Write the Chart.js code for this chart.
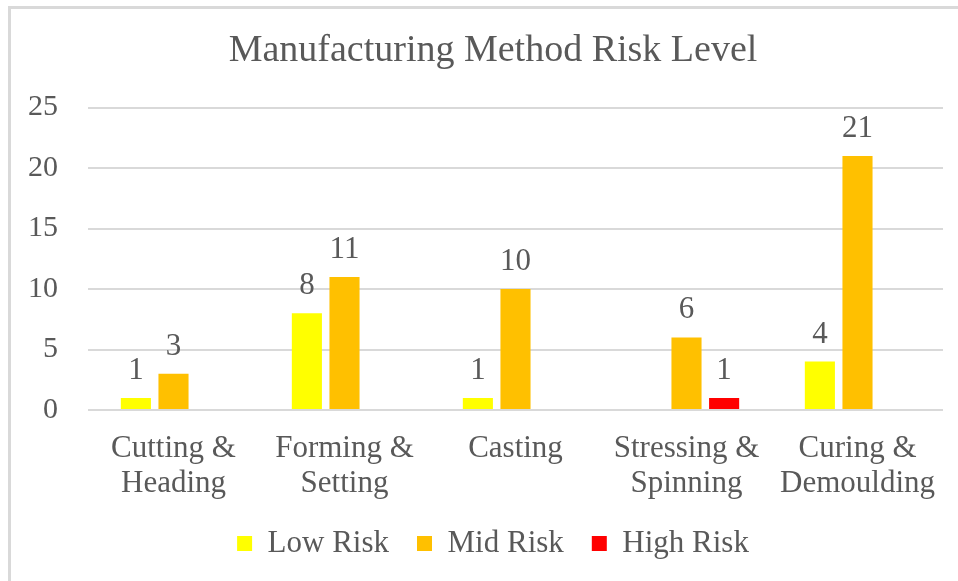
<!DOCTYPE html>
<html>
<head>
<meta charset="utf-8">
<script src="https://cdn.jsdelivr.net/npm/chart.js@4"></script>
<style>
  html, body { margin: 0; padding: 0; background: #fff; overflow: hidden; }
  .wrap { position: relative; width: 958px; height: 581px; }
  .frame {
    position: absolute; left: 8px; top: 6px;
    width: 1200px; height: 1200px;
    border: 3px solid #d9d9d9; pointer-events: none;
  }
  canvas { position: absolute; left: 0; top: 0; }
</style>
</head>
<body>
<div class="wrap">
  <canvas id="riskChart" width="958" height="581"></canvas>
  <div class="frame"></div>
</div>
<script>
// Data
const categories = [
    ['Cutting &', 'Heading'],
    ['Forming &', 'Setting'],
    ['Casting'],
    ['Stressing &', 'Spinning'],
    ['Curing &', 'Demoulding']
];
const lowRisk = [1, 8, 1, 0, 4];
const midRisk = [3, 11, 10, 6, 21];
const highRisk = [0, 0, 0, 1, 0];
const yTicks = [0, 5, 10, 15, 20, 25];

const serif = "'Liberation Serif', 'Times New Roman', serif";
const textColor = '#595959';

// Value labels above each non-zero bar
const barLabels = {
    id: 'barLabels',
    afterDatasetsDraw(chart) {
        const ctx = chart.ctx;
        ctx.save();
        ctx.font = '31px ' + serif;
        ctx.fillStyle = textColor;
        ctx.textAlign = 'center';
        ctx.textBaseline = 'alphabetic';
        chart.data.datasets.forEach((ds, i) => {
            const meta = chart.getDatasetMeta(i);
            meta.data.forEach((bar, j) => {
                const v = ds.data[j];
                if (!v) return;
                ctx.fillText(String(v), bar.x, bar.y - 19);
            });
        });
        ctx.restore();
    }
};

document.addEventListener('DOMContentLoaded', function() {
    const ctx = document.getElementById('riskChart');
    new Chart(ctx, {
        type: 'bar',
        data: {
            labels: categories,
            datasets: [
                { label: 'Low Risk', data: lowRisk, backgroundColor: '#FFFF00' },
                { label: 'Mid Risk', data: midRisk, backgroundColor: '#FFC000' },
                { label: 'High Risk', data: highRisk, backgroundColor: '#FF0000' }
            ]
        },
        options: {
            responsive: false,
            animation: false,
            categoryPercentage: 0.66,
            barPercentage: 0.8,
            layout: {
                padding: { left: 28, right: 0, top: 0, bottom: 12 }
            },
            scales: {
                x: {
                    grid: { display: false, drawTicks: false },
                    border: { display: false },
                    ticks: {
                        color: textColor,
                        font: { family: serif, size: 31, lineHeight: 1.13 },
                        padding: 21,
                        maxRotation: 0,
                        autoSkip: false
                    },
                    afterFit(scale) { scale.height = 90; }
                },
                y: {
                    min: 0,
                    max: 25,
                    afterBuildTicks(scale) {
                        scale.ticks = yTicks.map(v => ({ value: v }));
                    },
                    grid: { color: '#d9d9d9', lineWidth: 2, drawTicks: false },
                    border: { display: false },
                    ticks: {
                        color: textColor,
                        font: { family: serif, size: 30 },
                        padding: 30
                    },
                    afterFit(scale) { scale.width = 60; }
                },
                // empty spacer on the right so the title and legend sit where they do in the original
                spacer: {
                    type: 'linear',
                    position: 'right',
                    grid: { display: false, drawTicks: false },
                    border: { display: false },
                    ticks: { display: false },
                    afterFit(scale) { scale.width = 15; }
                }
            },
            plugins: {
                title: {
                    display: true,
                    text: 'Manufacturing Method Risk Level',
                    color: textColor,
                    font: { family: serif, size: 38, weight: 'normal' },
                    padding: { top: 28, bottom: 34 }
                },
                legend: {
                    position: 'bottom',
                    labels: {
                        color: textColor,
                        font: { family: serif, size: 31 },
                        boxWidth: 15,
                        boxHeight: 15,
                        padding: 28
                    }
                },
                tooltip: { enabled: false }
            }
        },
        plugins: [barLabels]
    });
});
</script>
</body>
</html>
